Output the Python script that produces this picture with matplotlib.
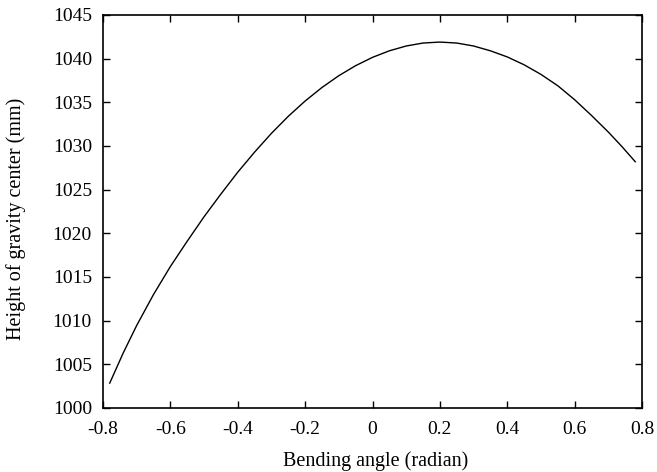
import matplotlib
matplotlib.use("Agg")
import matplotlib.pyplot as plt

# values
angle = [-0.78, -0.74, -0.70, -0.65, -0.60, -0.55, -0.50, -0.45, -0.40, -0.35,
         -0.30, -0.25, -0.20, -0.15, -0.10, -0.05, 0.00, 0.05, 0.10, 0.15,
         0.20, 0.25, 0.30, 0.35, 0.40, 0.45, 0.50, 0.55, 0.60, 0.65,
         0.70, 0.74, 0.78]
height = [1002.85, 1006.3, 1009.45, 1013.0, 1016.2, 1019.1, 1021.9, 1024.5, 1027.0, 1029.3,
          1031.45, 1033.4, 1035.15, 1036.7, 1038.05, 1039.2, 1040.15, 1040.9, 1041.45, 1041.79,
          1041.9, 1041.79, 1041.45, 1040.9, 1040.2, 1039.3, 1038.2, 1036.9, 1035.3, 1033.5,
          1031.6, 1029.95, 1028.2]

xticks = [-0.8, -0.6, -0.4, -0.2, 0, 0.2, 0.4, 0.6, 0.8]
xticklabels = ["-0.8", "-0.6", "-0.4", "-0.2", "0", "0.2", "0.4", "0.6", "0.8"]
yticks = [1000, 1005, 1010, 1015, 1020, 1025, 1030, 1035, 1040, 1045]

plt.rcParams["font.family"] = ["Liberation Serif", "DejaVu Serif"]

fig = plt.figure(figsize=(6.57, 4.72), dpi=100)
ax = fig.add_axes([103/657, 1 - 408/472, (642-103)/657, (408-15)/472])

ax.plot(angle, height, color="black", linewidth=1.0)

ax.set_xlim(-0.8, 0.8)
ax.set_ylim(1000, 1045)
ax.set_xticks(xticks)
ax.set_xticklabels(xticklabels)
ax.set_yticks(yticks)
ax.tick_params(direction="in", length=5, width=1, top=True, right=True,
               labelsize=14)
ax.tick_params(axis="x", pad=9)
ax.tick_params(axis="y", pad=8)
for s in ax.spines.values():
    s.set_linewidth(1.2)

ax.set_xlabel("Bending angle (radian)", fontsize=14.5)
ax.set_ylabel("Height of gravity center (mm)", fontsize=14.5)
ax.xaxis.set_label_coords(0.505, -0.11)
ax.yaxis.set_label_coords(-0.143, 0.48)

fig.savefig("out.png", dpi=100)
